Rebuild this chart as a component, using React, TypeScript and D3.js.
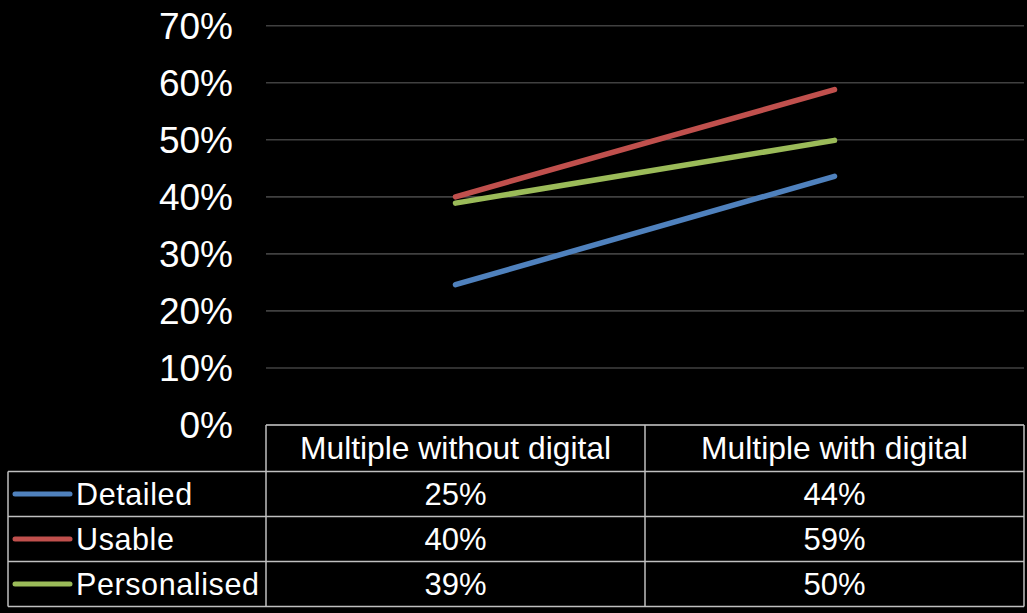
import React from "react";
import * as d3 from "d3";

const categories = ["Multiple without digital", "Multiple with digital"];
const seriesNames = ["Detailed", "Usable", "Personalised"];
const detailedValues = [0.246, 0.436];
const usableValues = [0.4, 0.588];
const personalisedValues = [0.389, 0.499];
const seriesColors = ["#4F81BD", "#C0504D", "#9BBB59"];
const yTicks = [0, 0.1, 0.2, 0.3, 0.4, 0.5, 0.6, 0.7];

const seriesValues = [detailedValues, usableValues, personalisedValues];

const W = 1027;
const H = 613;
const plotLeft = 266;
const plotRight = 1024;
const plotTop = 25.7;
const plotBottom = 425;
const tableLeft = 8;
const rowH = 45;
const headerBottom = 471.5;

export default function App() {
  const x = d3
    .scaleBand<string>()
    .domain(categories)
    .range([plotLeft, plotRight])
    .paddingInner(0)
    .paddingOuter(0);
  const y = d3.scaleLinear().domain([0, 0.7]).range([plotBottom, plotTop]);
  const fmt = d3.format(".0%");
  const line = d3
    .line<number>()
    .x((_, i) => (x(categories[i]) as number) + x.bandwidth() / 2)
    .y((d) => y(d));

  const font = "'Liberation Sans', Arial, sans-serif";
  const border = "#BFBFBF";
  const rowTops = seriesNames.map((_, i) => headerBottom + i * rowH);
  const tableBottom = headerBottom + seriesNames.length * rowH;

  return (
    <svg
      width={W}
      height={H}
      style={{ position: "fixed", left: 0, top: 0, background: "#000", display: "block" }}
      fontFamily={font}
    >
      <rect x={0} y={0} width={W} height={H} fill="#000" />
      {yTicks.map((t) => (
        <line
          key={"g" + t}
          x1={plotLeft}
          x2={plotRight}
          y1={y(t)}
          y2={y(t)}
          stroke="#404040"
          strokeWidth={1.6}
        />
      ))}
      {yTicks.map((t) => (
        <text
          key={"t" + t}
          x={233}
          y={y(t) + 13.3}
          textAnchor="end"
          fill="#fff"
          fontSize={37}
        >
          {fmt(t)}
        </text>
      ))}
      {seriesValues.map((vals, i) => (
        <path
          key={"l" + i}
          d={line(vals) || ""}
          fill="none"
          stroke={seriesColors[i]}
          strokeWidth={5.5}
          strokeLinecap="round"
          strokeLinejoin="round"
        />
      ))}
      <g stroke={border} strokeWidth={1.5} fill="none">
        <line x1={plotLeft} x2={plotRight} y1={plotBottom} y2={plotBottom} />
        <line x1={tableLeft} x2={plotRight} y1={headerBottom} y2={headerBottom} />
        {rowTops.map((rt, i) => (
          <line key={"r" + i} x1={tableLeft} x2={plotRight} y1={rt + rowH} y2={rt + rowH} />
        ))}
        <line x1={tableLeft} x2={tableLeft} y1={headerBottom} y2={tableBottom} />
        <line x1={plotLeft} x2={plotLeft} y1={plotBottom} y2={tableBottom} />
        {categories.map((c) => (
          <line
            key={"v" + c}
            x1={(x(c) as number) + x.bandwidth()}
            x2={(x(c) as number) + x.bandwidth()}
            y1={plotBottom}
            y2={tableBottom}
          />
        ))}
      </g>
      {categories.map((c) => (
        <text
          key={"h" + c}
          x={(x(c) as number) + x.bandwidth() / 2}
          y={(plotBottom + headerBottom) / 2 + 11}
          textAnchor="middle"
          fill="#fff"
          fontSize={31.8}
        >
          {c}
        </text>
      ))}
      {seriesNames.map((name, i) => {
        const cy = rowTops[i] + rowH / 2;
        return (
          <g key={"row" + name}>
            <line
              x1={15}
              x2={70}
              y1={cy}
              y2={cy}
              stroke={seriesColors[i]}
              strokeWidth={5}
              strokeLinecap="round"
            />
            <text x={76} y={cy + 11} fill="#fff" fontSize={30.5} letterSpacing={0.6}>
              {name}
            </text>
            {categories.map((c, j) => (
              <text
                key={"c" + c}
                x={(x(c) as number) + x.bandwidth() / 2}
                y={cy + 11}
                textAnchor="middle"
                fill="#fff"
                fontSize={31}
              >
                {fmt(seriesValues[i][j])}
              </text>
            ))}
          </g>
        );
      })}
    </svg>
  );
}
